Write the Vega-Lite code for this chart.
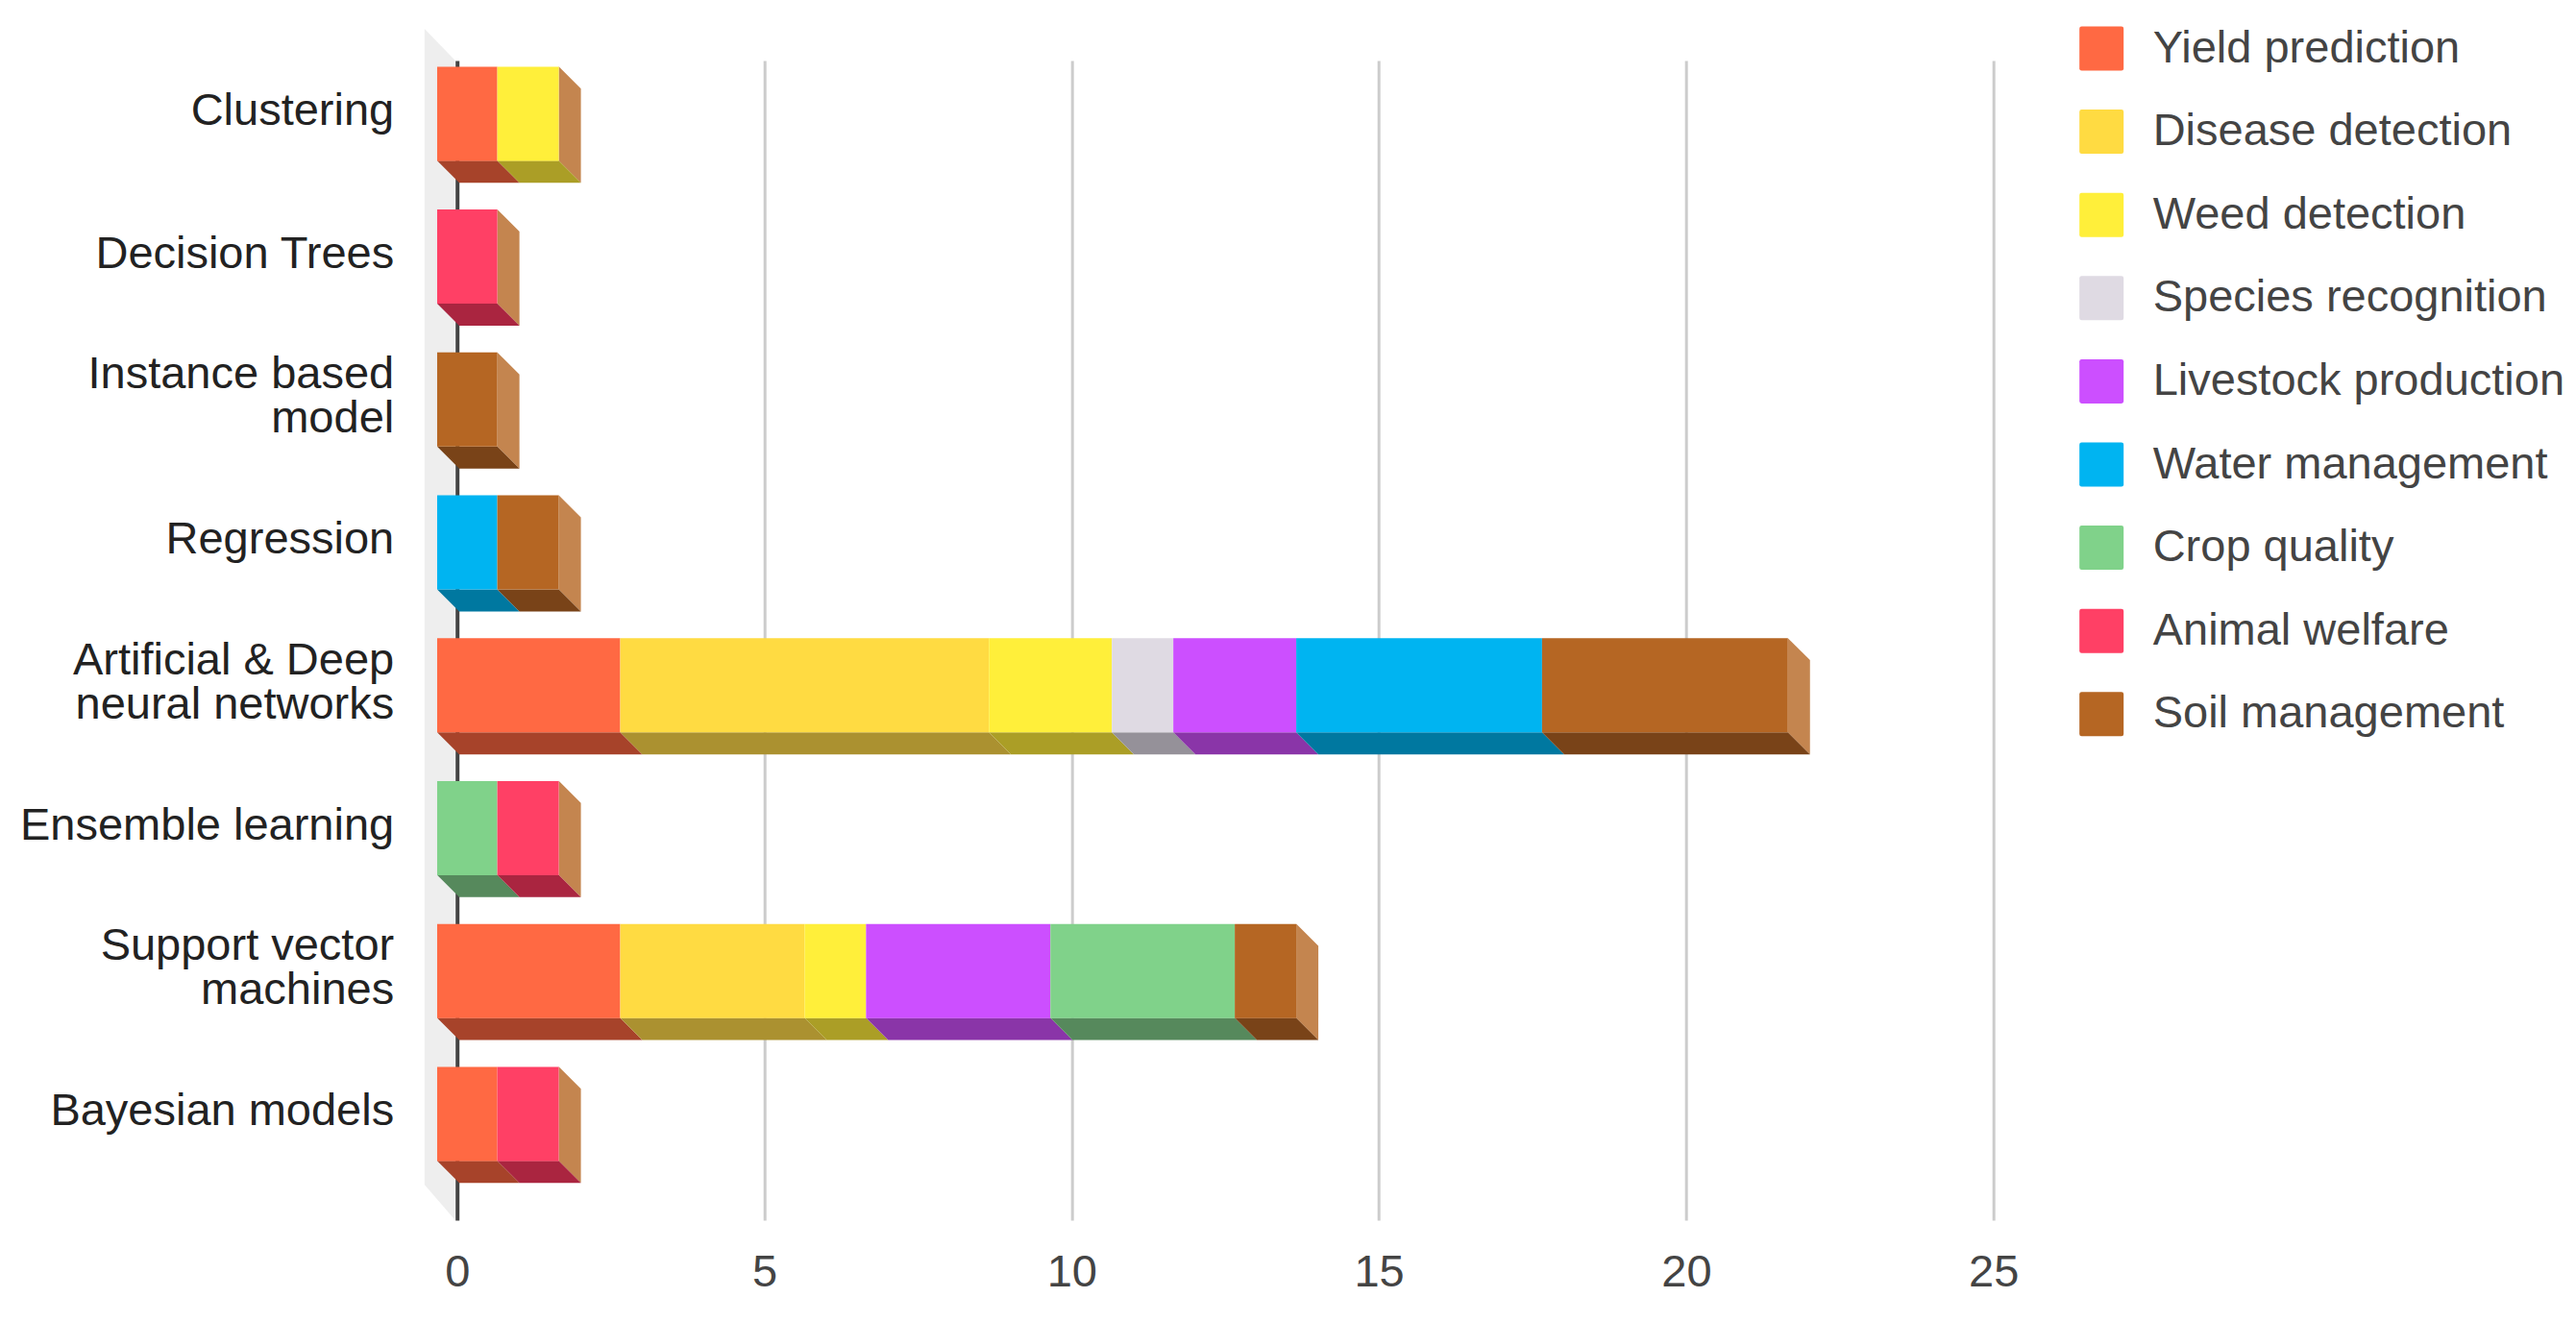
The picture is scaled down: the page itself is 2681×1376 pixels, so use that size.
{
"$schema":"https://vega.github.io/schema/vega-lite/v6.json",
"width":1599,"height":1207,
"autosize":{"type":"none"},
"padding":{"left":475.7,"top":63,"right":606,"bottom":106},
"background":"white",
"config":{"view":{"stroke":null},"font":"Liberation Sans"},
"data":{"values":[
{"method":"Clustering","task":"Yield prediction","papers":1},
{"method":"Clustering","task":"Weed detection","papers":1},
{"method":"Decision Trees","task":"Animal welfare","papers":1},
{"method":"Instance based model","task":"Soil management","papers":1},
{"method":"Regression","task":"Water management","papers":1},
{"method":"Regression","task":"Soil management","papers":1},
{"method":"Artificial & Deep neural networks","task":"Yield prediction","papers":3},
{"method":"Artificial & Deep neural networks","task":"Disease detection","papers":6},
{"method":"Artificial & Deep neural networks","task":"Weed detection","papers":2},
{"method":"Artificial & Deep neural networks","task":"Species recognition","papers":1},
{"method":"Artificial & Deep neural networks","task":"Livestock production","papers":2},
{"method":"Artificial & Deep neural networks","task":"Water management","papers":4},
{"method":"Artificial & Deep neural networks","task":"Soil management","papers":4},
{"method":"Ensemble learning","task":"Crop quality","papers":1},
{"method":"Ensemble learning","task":"Animal welfare","papers":1},
{"method":"Support vector machines","task":"Yield prediction","papers":3},
{"method":"Support vector machines","task":"Disease detection","papers":3},
{"method":"Support vector machines","task":"Weed detection","papers":1},
{"method":"Support vector machines","task":"Livestock production","papers":3},
{"method":"Support vector machines","task":"Crop quality","papers":3},
{"method":"Support vector machines","task":"Soil management","papers":1},
{"method":"Bayesian models","task":"Yield prediction","papers":1},
{"method":"Bayesian models","task":"Animal welfare","papers":1}
]},
"transform":[
{"stack":"papers","groupby":["method"],"as":["s0","e0"]},
{"calculate":"datum.s0==0?-0.324:datum.s0-0.345","as":"start"},
{"calculate":"datum.e0-0.345","as":"end"},
{"joinaggregate":[{"op":"max","field":"e0","as":"total"}],"groupby":["method"]},
{"calculate":"indexof(['Clustering','Decision Trees','Instance based model','Regression','Artificial & Deep neural networks','Ensemble learning','Support vector machines','Bayesian models'],datum.method)+0.054","as":"row"}
],
"layer":[
{
"data":{"values":[{"side":"outer"},{"side":"axis"}]},
"transform":[
{"calculate":"datum.side=='outer'?-0.53:-0.03","as":"wx"},
{"calculate":"datum.side=='outer'?-0.222:0","as":"wy0"},
{"calculate":"datum.side=='outer'?7.868:8.117","as":"wy1"}
],
"mark":{"type":"area","fill":"#EEEEEE"},
"encoding":{
"x":{"field":"wx","type":"quantitative","scale":{"domain":[0,25]},
"axis":{"values":[0,5,10,15,20,25],"format":"d","title":null,"domain":false,"ticks":false,"labelFlush":false,"labelPadding":32,"labelFontSize":47,"labelColor":"#444444","labelFont":"Liberation Sans",
"grid":true,"gridColor":{"condition":{"test":"datum.value===0","value":"#444444"},"value":"#CCCCCC"},"gridWidth":{"condition":{"test":"datum.value===0","value":4},"value":3}}},
"y":{"field":"wy0","type":"quantitative","axis":null,"scale":{"domain":[0,8.117],"range":[0,1207],"zero":false,"nice":false}},
"y2":{"field":"wy1"}
}
},
{
"transform":[
{"filter":"datum.e0==datum.total"},
{"calculate":"['a','b']","as":"corner"},
{"flatten":["corner"]},
{"calculate":"datum.corner=='a'?datum.end:datum.end+0.36","as":"sx"},
{"calculate":"datum.row+(datum.corner=='a'?-0.0114:0.1432)","as":"sy0"},
{"calculate":"datum.row+(datum.corner=='a'?0.6476:0.8023)","as":"sy1"}
],
"mark":{"type":"area","fill":"#C4854F"},
"encoding":{
"x":{"field":"sx","type":"quantitative","scale":{"domain":[0,25]}},
"y":{"field":"sy0","type":"quantitative","axis":null,"scale":{"domain":[0,8.117],"range":[0,1207],"zero":false,"nice":false}},
"y2":{"field":"sy1"},
"detail":{"field":"method"}
}
},
{
"transform":[
{"calculate":"['a','b','c','d']","as":"corner"},
{"flatten":["corner"]},
{"calculate":"datum.corner=='a'?datum.start:datum.corner=='b'?datum.start+0.36:datum.corner=='c'?datum.end:datum.end+0.36","as":"bx"},
{"calculate":"datum.corner=='d'?datum.row+0.8023:datum.row+0.6476","as":"by0"},
{"calculate":"datum.corner=='a'?datum.row+0.6476:datum.row+0.8023","as":"by1"}
],
"mark":{"type":"area"},
"encoding":{
"x":{"field":"bx","type":"quantitative","scale":{"domain":[0,25]}},
"y":{"field":"by0","type":"quantitative","axis":null,"scale":{"domain":[0,8.117],"range":[0,1207],"zero":false,"nice":false}},
"y2":{"field":"by1"},
"color":{"field":"task","type":"nominal","legend":null,
"scale":{"domain":["Yield prediction","Disease detection","Weed detection","Species recognition","Livestock production","Water management","Crop quality","Animal welfare","Soil management"],
"range":["#A7432A","#AB9130","#AB9E26","#959199","#8A35A8","#0078A0","#56895C","#AA2540","#794318"]}},
"detail":{"field":"method"}
}
},
{
"mark":{"type":"bar","height":98,"yOffset":-27.6},
"encoding":{
"y":{"field":"method","type":"nominal","title":null,
"scale":{"type":"band","paddingInner":0,"paddingOuter":0.058,"domain":["Clustering","Decision Trees","Instance based model","Regression","Artificial & Deep neural networks","Ensemble learning","Support vector machines","Bayesian models"]},
"axis":{"domain":false,"ticks":false,"grid":false,"labelPadding":66,"labelOffset":{"condition":{"test":"test(/^(Instance|Artificial|Support)/,datum.value)","value":-53},"value":-30},"labelFontSize":47,"labelColor":"#222222","labelLimit":600,"labelLineHeight":46,"labelFont":"Liberation Sans",
"labelExpr":"datum.label=='Instance based model'?['Instance based','model']:datum.label=='Artificial & Deep neural networks'?['Artificial & Deep','neural networks']:datum.label=='Support vector machines'?['Support vector','machines']:datum.label"}},
"x":{"field":"start","type":"quantitative","scale":{"domain":[0,25]}},
"x2":{"field":"end"},
"color":{"field":"task","type":"nominal",
"scale":{"domain":["Yield prediction","Disease detection","Weed detection","Species recognition","Livestock production","Water management","Crop quality","Animal welfare","Soil management"],
"range":["#FF6943","#FFDB42","#FFEF3A","#DFDAE3","#CC4FFF","#00B4F1","#80D28A","#FF4065","#B56623"]},
"legend":{"orient":"none","legendX":1688,"legendY":-36,"title":null,"symbolType":"M-0.9,-1H0.9Q1,-1 1,-0.9V0.9Q1,1 0.9,1H-0.9Q-1,1 -1,0.9V-0.9Q-1,-1 -0.9,-1Z","symbolSize":2116,"symbolStrokeWidth":0,"symbolOpacity":1,"labelFontSize":47,"labelColor":"#444444","labelFont":"Liberation Sans","labelOffset":30,"labelLimit":600,"rowPadding":38.6}}
}
}
],
"resolve":{"scale":{"color":"independent","y":"independent"},"axis":{"y":"independent"}}
}
